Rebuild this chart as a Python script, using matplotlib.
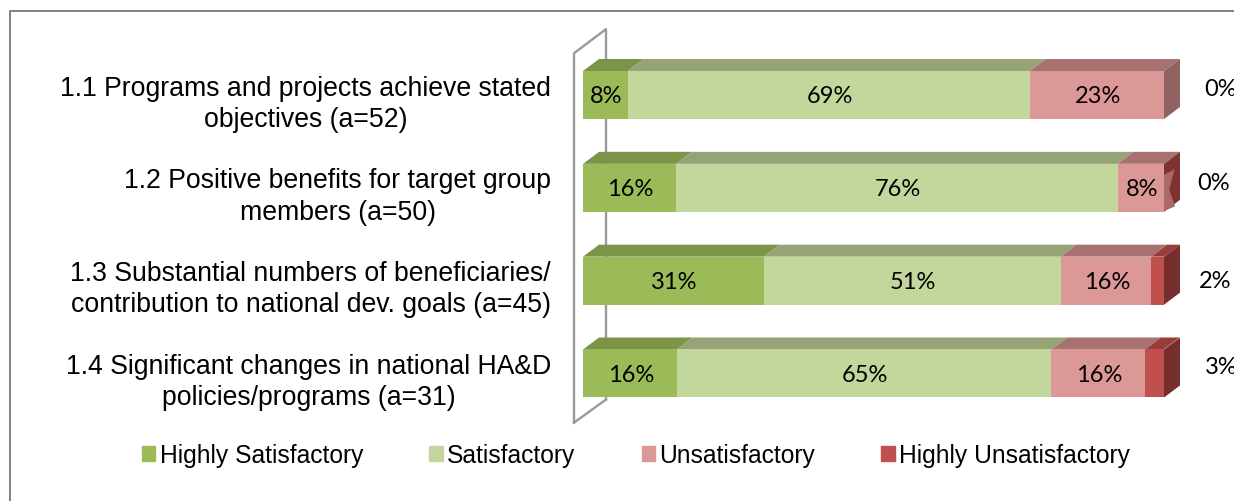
import matplotlib
matplotlib.use("Agg")
import matplotlib.pyplot as plt
from matplotlib.lines import Line2D
from matplotlib.patches import Patch, Polygon
from matplotlib.transforms import ScaledTranslation
import numpy as np

categories = [
    "1.1 Programs and projects achieve stated\nobjectives (a=52)",
    "1.2 Positive benefits for target group\nmembers (a=50)",
    "1.3 Substantial numbers of beneficiaries/\ncontribution to national dev. goals (a=45)",
    "1.4 Significant changes in national HA&D\npolicies/programs (a=31)",
]
series_names = ["Highly Satisfactory", "Satisfactory", "Unsatisfactory", "Highly Unsatisfactory"]
highly_sat = [7.7, 16.0, 31.1, 16.1]
sat = [69.2, 76.0, 51.1, 64.52]
unsat = [23.1, 8.0, 15.6, 16.1]
highly_unsat = [0.0, 0.0, 2.2, 3.2]

front_colors = ["#9BBB59", "#C3D69B", "#DC9896", "#C0504D"]
top_colors = ["#7B9448", "#95A377", "#A87271", "#983D3A"]
side_colors = ["#6F8A3A", "#8FA070", "#906262", "#772F2D"]

# nudges for the labels of the last series, they sit right of the bars
outer_x = [109.7, 108.6, 108.8, 109.8]
outer_dy = [-0.065, -0.055, 0.0, -0.08]

W, H = 1234, 502
BAR_H = 48 / 92.83
DEPTH_X = 16 / 5.81
DEPTH_Y = 12 / 92.83
LABEL_FONT = "Lato"
TEXT_FONT = "Liberation Sans"

fig = plt.figure(figsize=(W / 100, H / 100), dpi=100)
ax = fig.add_axes([583 / W, 1 - 420.9 / H, 581 / W, (419.9 - 48.6) / H])
ax.set_xlim(0, 100)
ax.set_ylim(3.5, -0.5)
for s in ax.spines.values():
    s.set_visible(False)
ax.set_xticks([])

# outer chart frame
frame = Line2D([10 / W, 10 / W, 1], [0, 1 - 12 / H, 1 - 12 / H], transform=fig.transFigure,
               color="#808080", lw=1.4)
fig.add_artist(frame)

# back wall of the 3d chart
ax.plot([-1.55, -1.55, 3.96, 3.96], [3.53, -0.45, -0.71, 3.28], color="#9A9A9A", lw=1.7,
        clip_on=False, zorder=1)
ax.plot([-1.55, 3.96], [3.53, 3.28], color="#9A9A9A", lw=1.7, clip_on=False, zorder=1)

values = np.array([highly_sat, sat, unsat, highly_unsat])
y_pos = np.arange(len(categories))
left = np.zeros(len(categories))
for j, name in enumerate(series_names):
    ax.barh(y_pos, values[j], left=left, height=BAR_H, color=front_colors[j], zorder=3, clip_on=False)
    for i in y_pos:
        if values[j][i] == 0:
            continue
        x0, x1 = left[i], left[i] + values[j][i]
        y_top = i - BAR_H / 2
        ax.add_patch(Polygon([(x0, y_top), (x1, y_top), (x1 + DEPTH_X, y_top - DEPTH_Y),
                              (x0 + DEPTH_X, y_top - DEPTH_Y)],
                             color=top_colors[j], lw=0, zorder=2, clip_on=False))
        label = f"{values[j][i]:.0f}%"
        if j < 3:
            ax.text((x0 + x1) / 2 + 0.2, i + 0.01, label, ha="center", va="center", fontsize=17,
                    family=LABEL_FONT, zorder=5)
    left = left + values[j]

# right hand side of each bar
for i in y_pos:
    last = 3 if highly_unsat[i] > 0 else 2
    y_top = i - BAR_H / 2
    y_bot = i + BAR_H / 2
    color = "#7F3331" if i == 1 else side_colors[last]
    ax.add_patch(Polygon([(100, y_top), (100 + DEPTH_X, y_top - DEPTH_Y),
                          (100 + DEPTH_X, y_bot - DEPTH_Y), (100, y_bot)],
                         color=color, lw=0, zorder=2, clip_on=False))
    ax.text(outer_x[i], i + outer_dy[i], f"{highly_unsat[i]:.0f}%", ha="center", va="center",
            fontsize=17, family=LABEL_FONT)

# pale streaks on the side of bar 1.2
ax.add_patch(Polygon([(100, 1 - 0.14), (101.8, 1 - 0.2), (100.9, 1 + 0.02), (101.9, 1 + 0.2), (100, 1 + 0.25)],
                     color="#A86A68", lw=0, zorder=2.5, clip_on=False))

ax.set_yticks(y_pos)
ax.set_yticklabels(categories, family=TEXT_FONT, fontsize=19.2, linespacing=1.26)
ax.tick_params(axis="y", length=0, pad=23)
shift = ScaledTranslation(0, -2.5 / 100, fig.dpi_scale_trans)
for t in ax.get_yticklabels():
    t.set_multialignment("center")
    t.set_transform(t.get_transform() + shift)

handles = [Patch(color=c) for c in front_colors]
fig.legend(handles, series_names, ncol=4, loc="center left", bbox_to_anchor=(142 / W, 1 - 456 / H),
           frameon=False, prop={"family": TEXT_FONT, "size": 17.75}, handlelength=0.54, handleheight=0.54,
           handletextpad=0.18, columnspacing=2.68, borderpad=0, borderaxespad=0)

fig.savefig("out.png", dpi=100)
